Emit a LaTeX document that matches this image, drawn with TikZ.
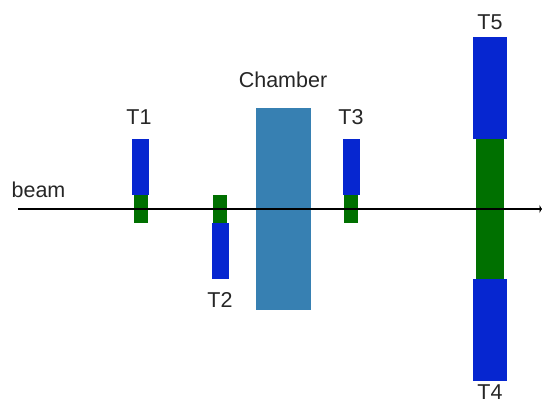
\documentclass[tikz,border=0pt]{standalone}
\usepackage{fontspec}
\setmainfont{Liberation Sans}
\usetikzlibrary{arrows.meta}
\definecolor{detblue}{RGB}{6,38,208}
\definecolor{detgreen}{RGB}{0,112,0}
\definecolor{chamberblue}{RGB}{55,128,178}
\begin{document}
\begin{tikzpicture}[x=1pt,y=-1pt,
  blk/.style={inner sep=0pt, outer sep=0pt, draw=none},
  lbl/.style={inner sep=0pt, font=\fontsize{21.5}{25}\selectfont, text=black!85}]
\useasboundingbox (0,0) rectangle (542,401);
% chamber
\node[blk, fill=chamberblue, minimum width=55.5pt, minimum height=202.5pt] (chamber) at (283.3,208.8) {};
\node[lbl] (chamberlbl) at (283,79.5) {Chamber};
% T1
\node[blk, fill=detblue, minimum width=16.7pt, minimum height=56pt] (t1b) at (140.7,167) {};
\node[blk, fill=detgreen, minimum width=14pt, minimum height=28pt] (t1g) at (140.5,209) {};
\node[lbl] (t1lbl) at (139,117.5) {T1};
% T2
\node[blk, fill=detgreen, minimum width=14pt, minimum height=28pt] (t2g) at (219.7,209) {};
\node[blk, fill=detblue, minimum width=17pt, minimum height=56pt] (t2b) at (220.2,251) {};
\node[lbl] (t2lbl) at (220,300) {T2};
% T3
\node[blk, fill=detblue, minimum width=16.7pt, minimum height=56pt] (t3b) at (351.7,167) {};
\node[blk, fill=detgreen, minimum width=14pt, minimum height=28pt] (t3g) at (351.3,209) {};
\node[lbl] (t3lbl) at (351,117.5) {T3};
% T5 / T4
\node[blk, fill=detblue, minimum width=34pt, minimum height=102pt] (t5b) at (489.7,87.8) {};
\node[blk, fill=detgreen, minimum width=28pt, minimum height=140pt] (t45g) at (490,208.8) {};
\node[blk, fill=detblue, minimum width=34pt, minimum height=102pt] (t4b) at (489.7,329.9) {};
\node[lbl] (t5lbl) at (490,22) {T5};
\node[lbl] (t4lbl) at (490,392.5) {T4};
% beam
\coordinate (bstart) at (18,209);
\coordinate (bend) at (542,209);
\draw[line width=2.2pt, -{Latex[length=2.5pt,width=9pt]}] (bstart) -- (bend);
\node[lbl] (beamlbl) at (38.5,190) {beam};
\end{tikzpicture}
\end{document}
